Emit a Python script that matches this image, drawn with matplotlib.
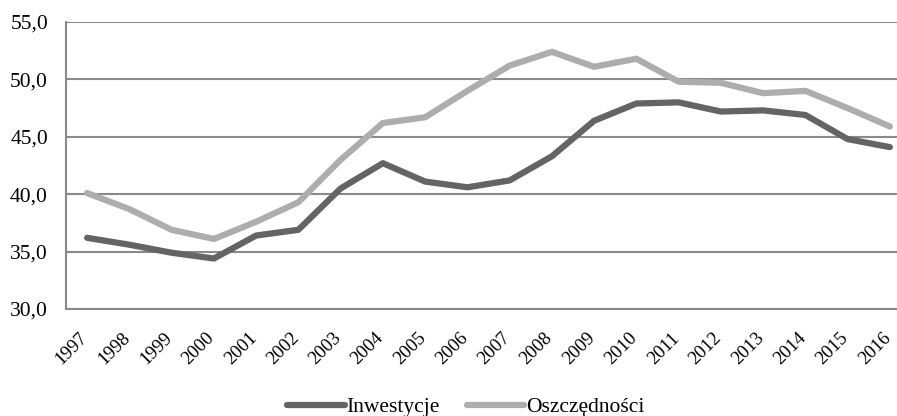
import matplotlib
matplotlib.use("Agg")
import matplotlib.pyplot as plt
import matplotlib.transforms as mtransforms

# Data
years = [str(y) for y in range(1997, 2017)]
inwestycje = [36.2, 35.6, 34.9, 34.4, 36.4, 36.9, 40.5, 42.7, 41.1, 40.6,
              41.2, 43.3, 46.4, 47.9, 48.0, 47.2, 47.3, 46.9, 44.8, 44.1]
oszczednosci = [40.1, 38.7, 36.9, 36.1, 37.6, 39.3, 43.0, 46.2, 46.7, 49.0,
                51.2, 52.4, 51.1, 51.8, 49.8, 49.7, 48.8, 49.0, 47.5, 45.9]
y_ticks = [30, 35, 40, 45, 50, 55]

plt.rcParams['font.family'] = ['Liberation Serif', 'DejaVu Serif']

fig = plt.figure(figsize=(8.97, 4.16), dpi=100)
# axes run a bit past the right edge, as in the original crop
ax = fig.add_axes([66 / 897, 1 - 309 / 416, 845 / 897, 287 / 416])

x = range(len(years))
ax.plot(x, inwestycje, color="#646464", lw=4.5, label="Inwestycje", solid_capstyle="round")
ax.plot(x, oszczednosci, color="#adadad", lw=4.5, label="Oszczędności", solid_capstyle="round")

ax.set_xlim(-0.5, len(years) - 0.5)
ax.set_ylim(30, 55)
ax.set_yticks(y_ticks)
ax.set_yticklabels(["{:.1f}".format(v).replace(".", ",") for v in y_ticks], fontsize=15.5)
ax.set_xticks(list(x))
ax.set_xticklabels(years, rotation=45, fontsize=13.5, ha="right", va="center",
                   rotation_mode="anchor")
ax.tick_params(axis="y", length=0, pad=13)
ax.tick_params(axis="x", length=0, pad=19)

# nudge the rotated year labels a little to the left
shift = mtransforms.ScaledTranslation(-2 / 100, 0, fig.dpi_scale_trans)
for lbl in ax.get_xticklabels():
    lbl.set_transform(lbl.get_transform() + shift)

ax.grid(axis="y", color="#8a8a8a", lw=1.5)
ax.set_axisbelow(True)
for side in ["top", "right"]:
    ax.spines[side].set_visible(False)
for side in ["left", "bottom"]:
    ax.spines[side].set_color("#8a8a8a")
    ax.spines[side].set_linewidth(1.5)

leg = fig.legend(loc="center", ncol=2, frameon=False, fontsize=15.5,
                 handlelength=2.65, handletextpad=0.1, columnspacing=1.25,
                 borderaxespad=0, borderpad=0)
leg.set_bbox_to_anchor((466 / 897, 1 - 407 / 416), transform=fig.transFigure)

fig.savefig("out.png", dpi=100)
